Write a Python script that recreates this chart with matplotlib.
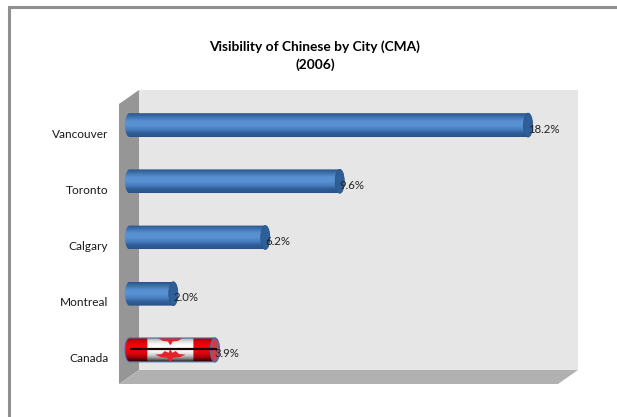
import numpy as np
import matplotlib
matplotlib.use("Agg")
import matplotlib.pyplot as plt
from matplotlib.patches import Polygon, Ellipse, Rectangle
from matplotlib.colors import LinearSegmentedColormap
from matplotlib.transforms import ScaledTranslation

cities = ["Vancouver", "Toronto", "Calgary", "Montreal", "Canada"]
values = [18.2, 9.6, 6.2, 2.0, 3.9]
labels = ["18.2%", "9.6%", "6.2%", "2.0%", "3.9%"]

W, H = 617, 417
plt.rcParams["font.family"] = ["Lato", "DejaVu Sans"]
fig = plt.figure(figsize=(W / 100, H / 100), dpi=100, facecolor="white")

# pixel-space backdrop
bg = fig.add_axes([0, 0, 1, 1])
bg.set_xlim(0, W); bg.set_ylim(H, 0); bg.axis("off")
bg.add_patch(Polygon([(9, H + 5), (9, 7), (W + 5, 7)], closed=False, fill=False, ec="#8f8f8f", lw=2.2))
bg.add_patch(Rectangle((139, 90), 439, 280, fc="#e6e6e6", ec="none"))
bg.add_patch(Polygon([(119, 104), (139, 90), (139, 370), (119, 384)], fc="#969696", ec="none"))
bg.add_patch(Polygon([(119, 384), (139, 370), (578, 370), (558, 384)], fc="#b1b1b1", ec="none"))
bg.text(315, 47, "Visibility of Chinese by City (CMA)", ha="center", va="center", fontsize=9.9, fontweight="bold", color="black")
bg.text(315, 65, "(2006)", ha="center", va="center", fontsize=9.9, fontweight="bold", color="black")

# data axes: 0 at x=129.5 px, 21.9 px per percent; five 56.2 px category bands
# the axes begin 9.5 px left of zero so the left caps are not cut off
x0, ppu = 129.5, 21.9
left_pad = 9.5
top, band = 97, 56.2
ax = fig.add_axes([(x0 - left_pad) / W, 1 - (top + 5 * band) / H, (20 * ppu + left_pad) / W, 5 * band / H])
ax.patch.set_alpha(0)
for s in ax.spines.values():
    s.set_visible(False)
ax.set_xticks([])
ax.set_yticks(range(len(cities)))
ax.set_yticklabels(cities, fontsize=8.6, color="#1a1a1a")
ax.tick_params(axis="y", length=0, pad=8.5)
for t in ax.get_yticklabels():
    t.set_transform(t.get_transform() + ScaledTranslation(0, -8 / 100, fig.dpi_scale_trans))

hb = 0.212                # half bar height in category units
capx = 4.5 / ppu          # cap half-width in percent units
blue = LinearSegmentedColormap.from_list("b", ["#2b5486", "#3f74b2", "#5790d2", "#5a92d4", "#4a80c0", "#2f5f98", "#2a5282"])
shade = np.linspace(0, 1, 64)[:, None]

for i, (c, v, lab) in enumerate(zip(cities, values, labels)):
    t = np.linspace(np.pi / 2, 3 * np.pi / 2, 30)
    left = np.c_[capx * np.cos(t), i - hb * np.sin(t)]
    tr = np.linspace(-np.pi / 2, np.pi / 2, 30)
    right = np.c_[v + capx * np.cos(tr), i - hb * np.sin(tr)]
    outline = np.vstack([left, right])
    clip = Polygon(outline, closed=True, fc="none", ec="none")
    ax.add_patch(clip)
    if c == "Canada":
        # flag texture wrapped round the cylinder
        w, h = 400, 64
        xx = np.linspace(-capx, v + capx, w)
        img = np.ones((h, w, 3))
        flagred = np.array([0.95, 0.02, 0.05])
        frac = (xx + capx) / (v + 2 * capx)
        img[:, (frac < 0.235) | (frac > 0.72)] = flagred
        yy = np.linspace(0, 1, h)
        dark = 1 - 0.6 * np.abs(2 * yy - 0.8) ** 2.4
        im = ax.imshow(img * dark[:, None, None], extent=[-capx, v + capx, i + hb, i - hb], aspect="auto", zorder=2, interpolation="bilinear")
        im.set_clip_path(clip)
        # maple leaf: lower main one and the wrapped top one
        mid = 0.48 * (v + 2 * capx) - capx
        leaf = np.array([(-.42, -.02), (-.24, -.05), (-.15, -.22), (-.05, -.12), (0, -.34), (.05, -.12), (.15, -.22), (.24, -.05), (.42, -.02),
                         (.26, .13), (.08, .16), (.02, .34), (-.02, .34), (-.08, .16), (-.26, .13)])
        scale = np.array([1.65, hb * 1.5])
        lp = Polygon(leaf * scale + (mid, i + 0.09), fc="#e7202a", ec="none", zorder=3)
        ax.add_patch(lp); lp.set_clip_path(clip)
        lp2 = Polygon(leaf * scale * (0.8, 1) + (mid, i - hb * 0.95), fc="#e7202a", ec="none", zorder=3)
        ax.add_patch(lp2); lp2.set_clip_path(clip)
        ax.add_patch(Ellipse((v, i), 2 * capx, 2 * hb, fc="#c8404a", ec="#4f6f9f", lw=0.9, zorder=4))
        ax.add_patch(Polygon(outline, closed=True, fc="none", ec="#4a6fa5", lw=0.8, zorder=5))
        ax.plot([0.02, v + 0.08], [i - 0.01, i - 0.01], color="#1a0505", lw=1.6, zorder=6, solid_capstyle="butt")
    else:
        im = ax.imshow(shade, cmap=blue, extent=[-capx, v + capx, i + hb, i - hb], aspect="auto", zorder=2, vmin=0, vmax=1)
        im.set_clip_path(clip)
        ax.add_patch(Ellipse((v, i), 2 * capx, 2 * hb, fc="#2f5f99", ec="#2b5587", lw=0.6, zorder=4))
    ax.annotate(lab, (v, i), xytext=(0, -2.9), textcoords="offset points", fontsize=8.2, color="#222222", ha="left", va="center", zorder=7)

ax.set_xlim(-left_pad / ppu, 20); ax.set_ylim(4.5, -0.5)
fig.savefig("out.png", dpi=100, facecolor="white")
